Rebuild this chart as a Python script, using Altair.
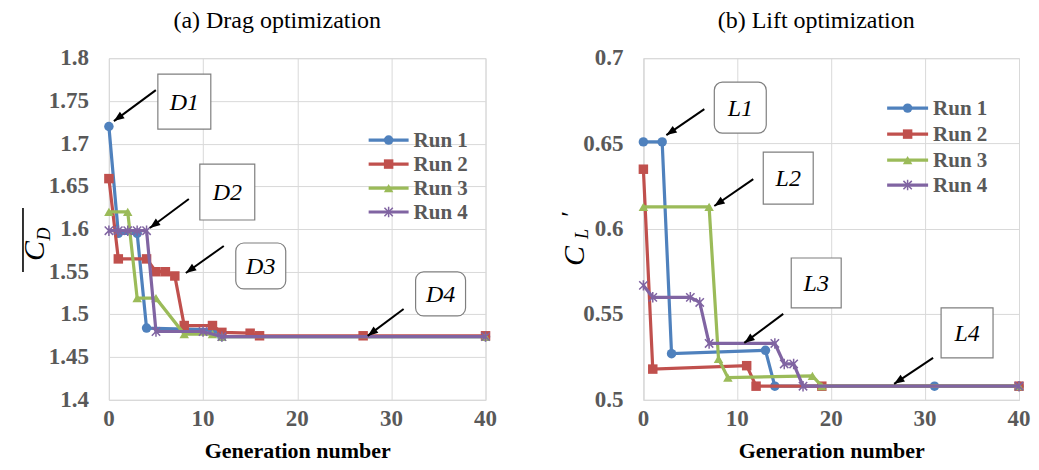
import math
import altair as alt
import pandas as pd

FONT = "Liberation Serif"
RUNS = ["Run 1", "Run 2", "Run 3", "Run 4"]
COLORS = ["#4F81BD", "#C0504D", "#9BBB59", "#8064A2"]
ASTER = "M-1,-1L1,1M-1,1L1,-1M0,-1.25L0,1.25"
SHAPES = ["circle", "square", "triangle-up", ASTER]
ARROW = "M0,0L-0.5,1.3L0.5,1.3Z"

# ---------------- (a) Drag optimization ----------------
drag_gen_1 = [0, 1, 3, 4, 11, 12, 40]
drag_cd_1 = [1.720, 1.595, 1.595, 1.484, 1.482, 1.474, 1.474]
drag_gen_2 = [0, 1, 4, 5, 6, 7, 8, 11, 12, 15, 16, 27, 40]
drag_cd_2 = [1.659, 1.565, 1.565, 1.550, 1.550, 1.545, 1.487, 1.487, 1.479, 1.478, 1.475, 1.475, 1.475]
drag_gen_3 = [0, 2, 3, 5, 8, 11, 12, 40]
drag_cd_3 = [1.620, 1.620, 1.519, 1.519, 1.477, 1.477, 1.474, 1.474]
drag_gen_4 = [0, 1, 2, 3, 4, 5, 10, 12, 40]
drag_cd_4 = [1.598, 1.598, 1.598, 1.598, 1.598, 1.480, 1.480, 1.474, 1.474]

# ---------------- (b) Lift optimization ----------------
lift_gen_1 = [0, 2, 3, 13, 14, 31, 40]
lift_cl_1 = [0.651, 0.651, 0.527, 0.529, 0.508, 0.508, 0.508]
lift_gen_2 = [0, 1, 11, 12, 19, 40]
lift_cl_2 = [0.635, 0.518, 0.520, 0.508, 0.508, 0.508]
lift_gen_3 = [0, 7, 8, 9, 18, 19, 40]
lift_cl_3 = [0.613, 0.613, 0.524, 0.513, 0.514, 0.508, 0.508]
lift_gen_4 = [0, 1, 5, 6, 7, 14, 15, 16, 17, 40]
lift_cl_4 = [0.567, 0.560, 0.560, 0.557, 0.533, 0.533, 0.521, 0.521, 0.508, 0.508]

x_ticks = [0, 10, 20, 30, 40]
drag_ticks = [1.4, 1.45, 1.5, 1.55, 1.6, 1.65, 1.7, 1.75, 1.8]
lift_ticks = [0.5, 0.55, 0.6, 0.65, 0.7]

one = alt.Data(values=[{"a": 1}])

H = 342
LABEL_COLOR = "#595959"
LABEL_SIZE = 23
AXIS_STYLE = dict(gridColor="#d9d9d9", domainColor="#d9d9d9", ticks=False, grid=True, labels=False)


def xenc(field):
    return alt.X(field, scale=alt.Scale(domain=[0, 40], nice=False),
                 axis=alt.Axis(values=x_ticks, title="Generation number", titlePadding=41,
                               titleFont=FONT, titleFontSize=22, titleFontWeight="bold",
                               titleColor="black", **AXIS_STYLE))


def yenc(field, ydomain, yticks):
    return alt.Y(field, scale=alt.Scale(domain=ydomain, nice=False, zero=False),
                 axis=alt.Axis(values=yticks, title=None, **AXIS_STYLE))


def series_layers(gens, vals, ydomain, yticks):
    layers = []
    for i, (g, v) in enumerate(zip(gens, vals)):
        df = pd.DataFrame({"gen": g, "val": v})
        x = xenc("gen:Q")
        y = yenc("val:Q", ydomain, yticks)
        line = alt.Chart(df).mark_line(color=COLORS[i], strokeWidth=3.2).encode(x=x, y=y)
        if i < 3:
            pt = alt.Chart(df).mark_point(shape=SHAPES[i], filled=True, color=COLORS[i],
                                          size=90, opacity=1).encode(x=x, y=y)
        else:
            pt = alt.Chart(df).mark_point(shape=ASTER, filled=False, color=COLORS[i],
                                          size=70, strokeWidth=1.5, opacity=1).encode(x=x, y=y)
        layers += [line, pt]
    # tick labels, placed through the same scales
    ydf = pd.DataFrame({"val": yticks})
    layers.append(alt.Chart(ydf).mark_text(font=FONT, fontSize=LABEL_SIZE, fontWeight="bold",
                                           color=LABEL_COLOR, align="right", baseline="middle").encode(
        x=alt.value(-20), y=yenc("val:Q", ydomain, yticks), text=alt.Text("val:Q", format=".2~f")))
    xdf = pd.DataFrame({"gen": x_ticks})
    layers.append(alt.Chart(xdf).mark_text(font=FONT, fontSize=LABEL_SIZE, fontWeight="bold",
                                           color=LABEL_COLOR, align="center", baseline="top").encode(
        x=xenc("gen:Q"), y=alt.value(H + 8), text=alt.Text("gen:Q", format="d")))
    return layers


def box(x1, y1, x2, y2, label, radius):
    r = alt.Chart(one).mark_rect(fill="white", stroke="#7f7f7f", strokeWidth=1.2,
                                 cornerRadius=radius).encode(
        x=alt.value(x1), x2=alt.value(x2), y=alt.value(y1), y2=alt.value(y2))
    t = alt.Chart(one).mark_text(text=label, font=FONT, fontStyle="italic", fontSize=24,
                                 align="center", baseline="middle", color="black").encode(
        x=alt.value((x1 + x2) / 2), y=alt.value((y1 + y2) / 2 + 1))
    return [r, t]


def arrow(x0, y0, x1, y1):
    ang = math.degrees(math.atan2(x1 - x0, -(y1 - y0))) % 360
    line = alt.Chart(one).mark_rule(color="black", strokeWidth=2).encode(
        x=alt.value(x0), y=alt.value(y0), x2=alt.value(x1), y2=alt.value(y1))
    head = alt.Chart(one).mark_point(shape=ARROW, filled=True, color="black", size=256,
                                     angle=ang, opacity=1).encode(
        x=alt.value(x1), y=alt.value(y1))
    return [line, head]


def legend(x0, x1, xt, ys):
    layers = []
    for i in range(4):
        layers.append(alt.Chart(one).mark_rule(color=COLORS[i], strokeWidth=3.2).encode(
            x=alt.value(x0), x2=alt.value(x1), y=alt.value(ys[i])))
        if i < 3:
            layers.append(alt.Chart(one).mark_point(shape=SHAPES[i], filled=True, color=COLORS[i],
                                                    size=90, opacity=1).encode(
                x=alt.value((x0 + x1) / 2), y=alt.value(ys[i])))
        else:
            layers.append(alt.Chart(one).mark_point(shape=ASTER, filled=False, color=COLORS[i],
                                                    size=70, strokeWidth=1.5, opacity=1).encode(
                x=alt.value((x0 + x1) / 2), y=alt.value(ys[i])))
        layers.append(alt.Chart(one).mark_text(text=RUNS[i], font=FONT, fontSize=21,
                                               fontWeight="bold", color=LABEL_COLOR,
                                               align="left", baseline="middle").encode(
            x=alt.value(xt), y=alt.value(ys[i] + 1)))
    return layers


def rtext(txt, x, y, size):
    return alt.Chart(one).mark_text(text=txt, font=FONT, fontStyle="italic", fontSize=size,
                                    angle=270, align="center", baseline="middle",
                                    color="black").encode(x=alt.value(x), y=alt.value(y))


# ---- left panel ----
left_layers = series_layers([drag_gen_1, drag_gen_2, drag_gen_3, drag_gen_4],
                            [drag_cd_1, drag_cd_2, drag_cd_3, drag_cd_4],
                            [1.4, 1.8], drag_ticks)
left_layers += legend(260, 300, 305, [82, 106, 130, 154])
left_layers += arrow(47, 32, 5, 63) + box(49, 16, 102, 71, "D1", 0)
left_layers += arrow(80, 141, 41, 170) + box(91, 106, 146, 162, "D2", 0)
left_layers += arrow(115, 188, 77, 215) + box(127, 185, 177, 231, "D3", 8)
left_layers += arrow(295, 251, 259, 278) + box(307, 214, 357, 258, "D4", 8)
left_layers += [
    rtext("C", -74, 193, 30),
    rtext("D", -64, 176, 18),
    alt.Chart(one).mark_rule(color="black", strokeWidth=1.6).encode(
        x=alt.value(-86), x2=alt.value(-86), y=alt.value(150), y2=alt.value(214)),
]
left = alt.layer(*left_layers).properties(
    width=377, height=H,
    title=alt.TitleParams("(a)  Drag optimization", font=FONT, fontSize=24, fontWeight="normal",
                          color="black", anchor="middle", dx=-20, offset=14))

# ---- right panel ----
right_layers = series_layers([lift_gen_1, lift_gen_2, lift_gen_3, lift_gen_4],
                             [lift_cl_1, lift_cl_2, lift_cl_3, lift_cl_4],
                             [0.5, 0.7], lift_ticks)
right_layers += legend(244, 285, 290, [50, 76, 102, 127])
right_layers += arrow(61, 51, 23, 77) + box(71, 24, 123, 75, "L1", 8)
right_layers += arrow(110, 121, 71, 148) + box(120, 94, 170, 146, "L2", 0)
right_layers += arrow(140, 256, 101, 285) + box(148, 200, 198, 250, "L3", 0)
right_layers += arrow(290, 300, 251, 326) + box(298, 250, 350, 300, "L4", 0)
right_layers += [
    rtext("C", -68, 198, 30),
    rtext("L", -60, 176, 18),
    alt.Chart(one).mark_text(text="\u2032", font=FONT, fontSize=26, angle=270, align="center",
                             baseline="middle", color="black").encode(
        x=alt.value(-72), y=alt.value(156)),
]
right = alt.layer(*right_layers).properties(
    width=376, height=H,
    title=alt.TitleParams("(b) Lift optimization", font=FONT, fontSize=24, fontWeight="normal",
                          color="black", anchor="middle", dx=-15, offset=14))

chart = alt.hconcat(left, right, spacing=60).properties(
    padding={"left": 11, "top": 0, "right": 0, "bottom": 0}
).configure_view(stroke="#d9d9d9")

chart.save("out.html", embed_options={"renderer": "svg", "actions": False})
